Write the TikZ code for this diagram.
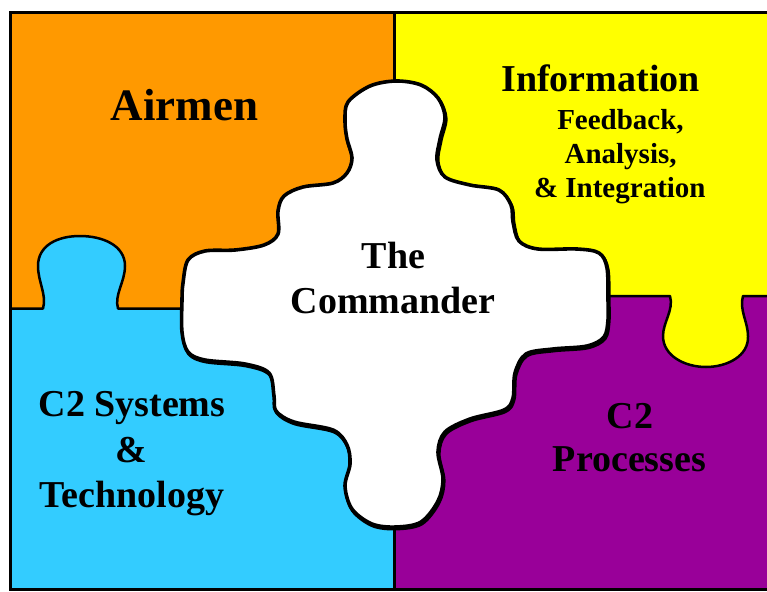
\documentclass[tikz,border=0pt]{standalone}
\usepackage{fontspec}
\setmainfont{Liberation Serif}
\definecolor{airorange}{HTML}{FF9900}
\definecolor{infoyellow}{HTML}{FFFF00}
\definecolor{syscyan}{HTML}{33CCFF}
\definecolor{procpurple}{HTML}{990099}
% outline of the central piece
\newcommand{\commanderoutline}{plot[smooth cycle, tension=0.55] coordinates {
  (396,81) (421,85) (438,98) (445,117) (440,139) (437,160) (445,177) (470,185)
  (499,190) (511,205) (513,222) (519,241) (538,249) (577,249) (599,253) (607,268)
  (608,300) (608,320) (604,337) (587,346) (553,349) (526,354) (515,373) (513,398)
  (504,410) (470,419) (445,432) (438,452) (443,479) (438,501) (421,522) (396,527)
  (372,524) (352,509) (345,486) (350,464) (347,445) (333,430) (294,422) (276,411)
  (274,396) (269,373) (245,364) (205,360) (188,352) (182,332) (182,300) (183,283)
  (188,260) (205,251) (235,250) (264,245) (278,234) (278,211) (284,196) (303,187)
  (333,183) (347,173) (352,158) (347,139) (345,121) (348,102) (370,86)}}
\begin{document}
\begin{tikzpicture}[x=1pt,y=-1pt,
  seam/.style={line width=2.5pt, line join=round, line cap=butt},
  frame/.style={line width=3pt, line join=miter},
  piece/.style={line width=3.6pt, line join=round},
  bigtext/.style={anchor=base, inner sep=0pt, font=\fontsize{38pt}{45pt}\selectfont\bfseries},
  hugetext/.style={anchor=base, inner sep=0pt, font=\fontsize{45pt}{54pt}\selectfont\bfseries},
  smalltext/.style={anchor=base, inner sep=0pt, font=\fontsize{29pt}{34pt}\selectfont\bfseries}]
\useasboundingbox (0,0) rectangle (767,591);
\clip (0,0) rectangle (767,591);

% quadrant fills
\fill[airorange]   (10,13)   rectangle (394,308.5);
\fill[infoyellow]  (394,13)  rectangle (770,296);
\fill[syscyan]     (10,308.5) rectangle (394,589);
\fill[procpurple]  (394,296) rectangle (770,589);

% knob of the lower-left piece reaching up into the upper-left one
\fill[syscyan] (43,309) .. controls (47,295) and (38,282) .. (38,266)
  .. controls (38,245) and (58,236) .. (80,236)
  .. controls (102,236) and (125,245) .. (125,266)
  .. controls (125,282) and (114,295) .. (118,309) -- cycle;
% knob of the upper-right piece reaching down into the lower-right one
\fill[infoyellow] (670,296) .. controls (674,310) and (663,322) .. (663,336)
  .. controls (663,356) and (685,367) .. (706,367)
  .. controls (727,367) and (749,356) .. (748,336)
  .. controls (748,322) and (739,310) .. (743,296) -- cycle;

% seams between the outer pieces
\draw[seam] (10,308.5) -- (43,308.5) .. controls (47,295) and (38,282) .. (38,266)
  .. controls (38,245) and (58,236) .. (80,236)
  .. controls (102,236) and (125,245) .. (125,266)
  .. controls (125,282) and (114,295) .. (118,308.5) -- (195,308.5);
\draw[seam] (595,296) -- (670,296) .. controls (674,310) and (663,322) .. (663,336)
  .. controls (663,356) and (685,367) .. (706,367)
  .. controls (727,367) and (749,356) .. (748,336)
  .. controls (748,322) and (739,310) .. (743,296) -- (770,296);
\draw[seam] (394.5,13) -- (394.5,95);
\draw[seam] (394.5,515) -- (394.5,589);

% central piece with its slight shadow
\draw[piece, shift={(0.8,1.6)}] \commanderoutline;
\draw[piece, fill=white] \commanderoutline;

% outer frame (right side runs off the page)
\draw[frame] (775,13) -- (10,13) -- (10,589) -- (775,589);

% labels
\node[hugetext] (airmen) at (184.7,121) {Airmen};
\node[bigtext] (info) at (600.5,91.6) {Information};
\node[smalltext] (info1) at (620.5,129) {Feedback,};
\node[smalltext] (info2) at (620.6,163) {Analysis,};
\node[smalltext] (info3) at (619.8,197) {\& Integration};
\node[bigtext] (cmdr1) at (393.5,268) {The};
\node[bigtext] (cmdr2) at (393,313.6) {Commander};
\node[bigtext] (sys1) at (132,416.5) {C2 Systems};
\node[bigtext] (sys2) at (131.5,462) {\&};
\node[bigtext] (sys3) at (132,507) {Technology};
\node[bigtext] (proc1) at (630,428) {C2};
\node[bigtext] (proc2) at (629.5,471) {Processes};
\end{tikzpicture}
\end{document}
